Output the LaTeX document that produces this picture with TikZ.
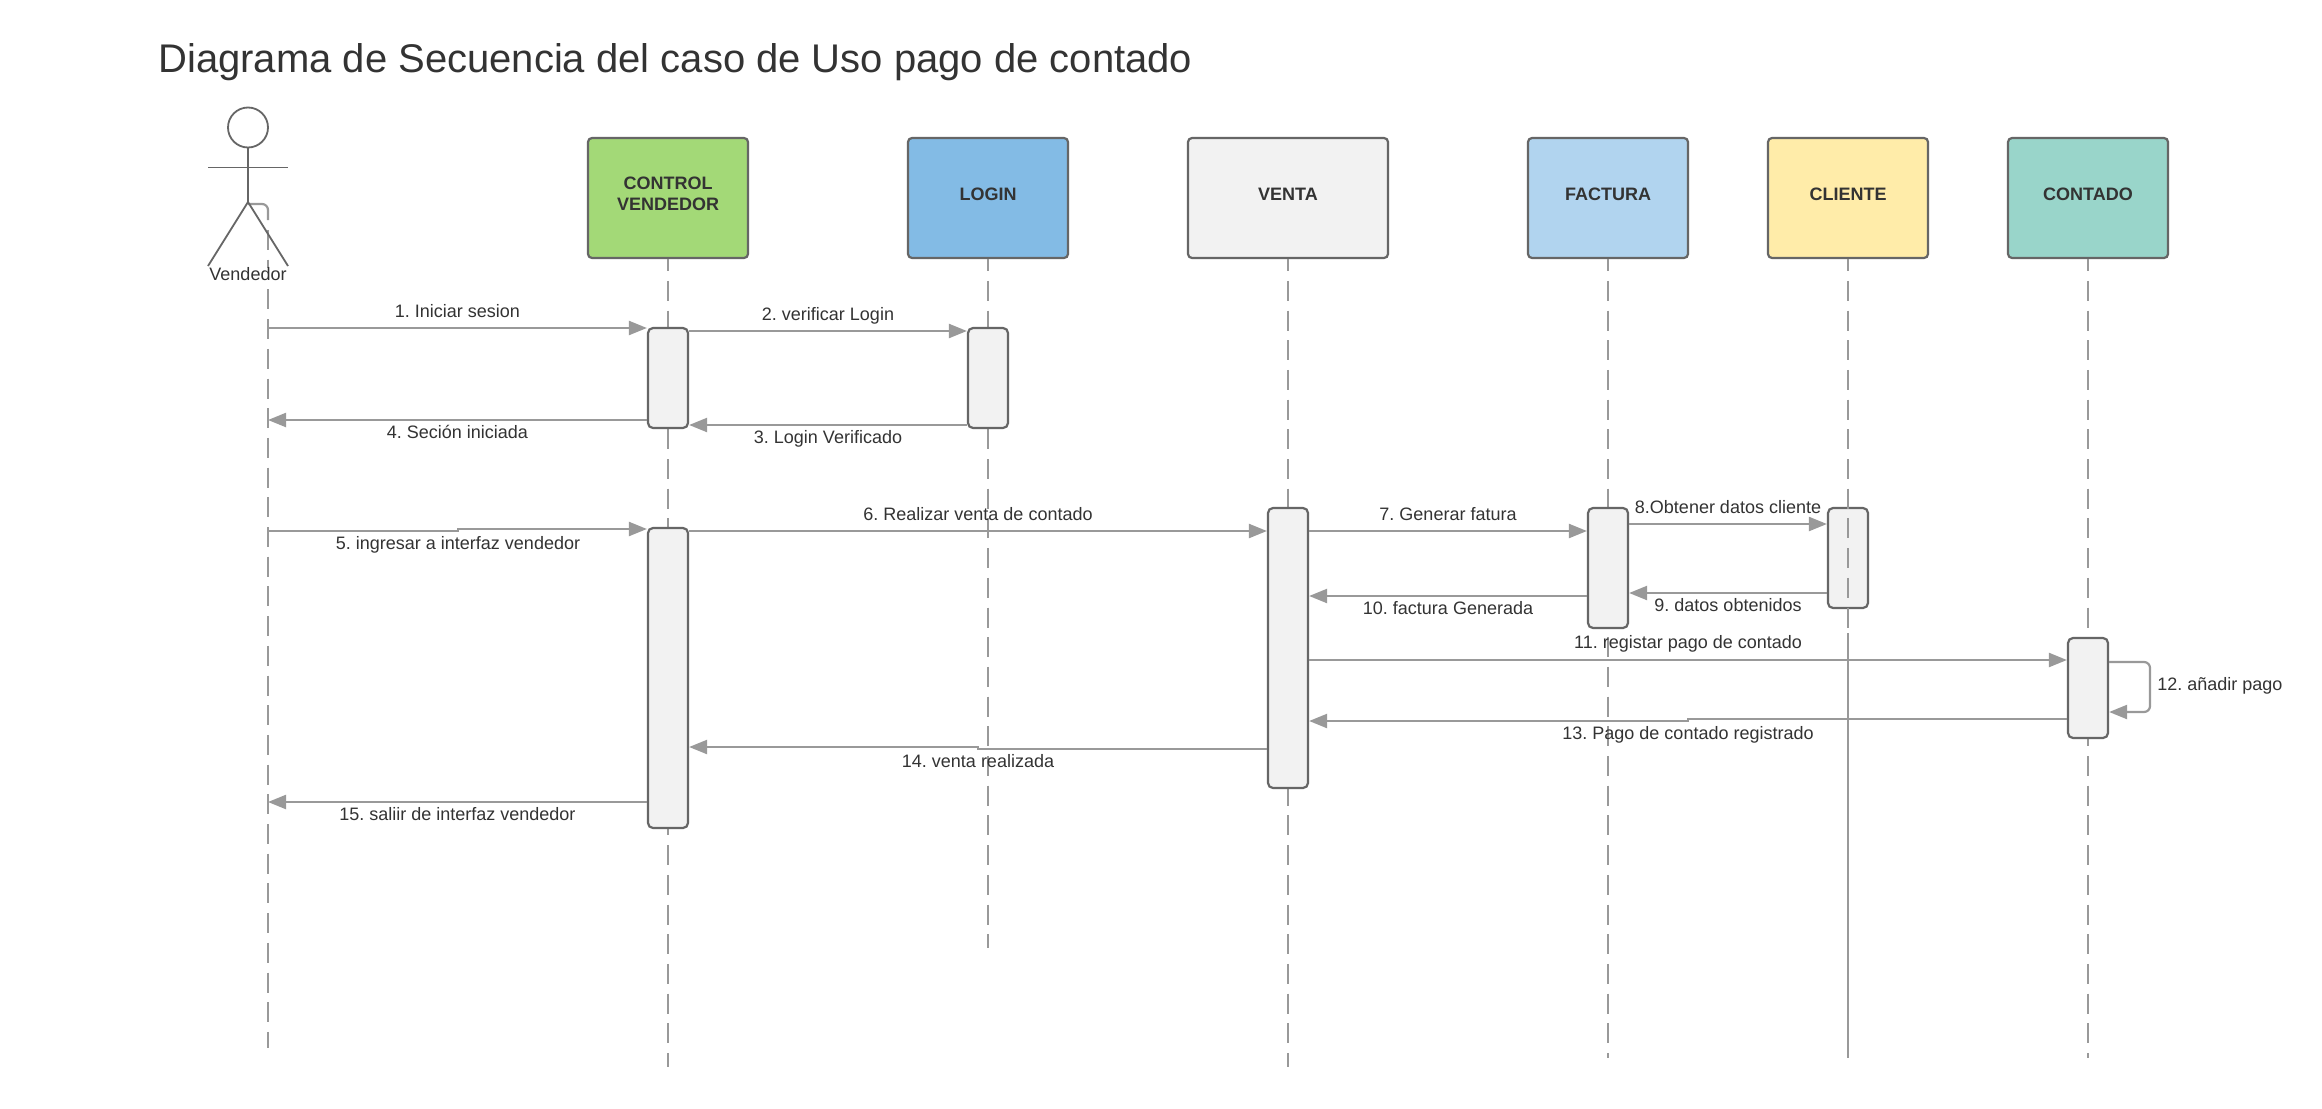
\documentclass[tikz,border=0pt]{standalone}
\usepackage{fontspec}
\setmainfont{Liberation Sans}
\usetikzlibrary{arrows.meta}
\definecolor{lineC}{HTML}{999999}
\definecolor{edgeC}{HTML}{666666}
\definecolor{textC}{HTML}{333333}
\definecolor{greenC}{HTML}{A3D977}
\definecolor{blueC}{HTML}{83BBE5}
\definecolor{paleC}{HTML}{F2F2F2}
\definecolor{skyC}{HTML}{B1D4EF}
\definecolor{yellowC}{HTML}{FFECA9}
\definecolor{tealC}{HTML}{99D5CA}
\frenchspacing
\begin{document}
\begin{tikzpicture}[x=0.5pt,y=-0.5pt,
                    every node/.style={text=textC},
                    obj/.style={draw=edgeC,line width=1.1pt,rounded corners=2pt,minimum width=80pt,minimum height=60pt,align=center,text depth=3.8pt,font=\fontsize{9}{10.5}\selectfont\bfseries},
                    act/.style={draw=edgeC,fill=paleC,line width=1.1pt,rounded corners=2.5pt,minimum width=20pt,inner sep=0pt},
                    life/.style={draw=lineC,line width=1.1pt,dash pattern=on 10pt off 4.85pt,dash phase=4pt},
                    msg/.style={draw=lineC,line width=1.1pt,-{Triangle[length=9pt,width=7pt]}},
                    stick/.style={draw=edgeC,line width=0.9pt},
                    lbl/.style={inner sep=0pt,font=\fontsize{9}{10}\selectfont,text height=6.5pt,text depth=2pt},
                    up/.style={lbl,midway,yshift=7.75pt},
                    dn/.style={lbl,midway,yshift=-7pt}]
  \path[use as bounding box,fill=white] (0,0) rectangle (2322,1108);
  \node[anchor=west,inner sep=0pt,font=\fontsize{20}{24}\selectfont] (title) at (158,62) {Diagrama de Secuencia del caso de Uso pago de contado};

  % lifelines
  \coordinate (actorEnd) at (268,1048);
  \coordinate (ctrlEnd) at (668,1067);
  \coordinate (loginEnd) at (988,948);
  \coordinate (ventaEnd) at (1288,1067);
  \coordinate (factEnd) at (1608,1058);
  \coordinate (clienteEnd) at (1848,1058);
  \coordinate (contEnd) at (2088,1058);

  \node[obj,fill=greenC] (ctrl) at (668,198) {CONTROL\\VENDEDOR};
  \node[obj,fill=blueC] (login) at (988,198) {LOGIN};
  \node[obj,fill=paleC,minimum width=100pt] (venta) at (1288,198) {VENTA};
  \node[obj,fill=skyC] (fact) at (1608,198) {FACTURA};
  \node[obj,fill=yellowC] (cliente) at (1848,198) {CLIENTE};
  \node[obj,fill=tealC] (cont) at (2088,198) {CONTADO};

  \draw[life] (ctrl)--(ctrlEnd);
  \draw[life] (login)--(loginEnd);
  \draw[life] (venta)--(ventaEnd);
  \draw[life] (fact)--(factEnd);
  \draw[life] (cont)--(contEnd);

  % actor
  \node[circle,stick,minimum size=20pt,inner sep=0pt] (head) at (248,127.5) {};
  \coordinate (hip) at (248,202);
  \coordinate (armL) at (208,167.5);
  \coordinate (armR) at (288,167.5);
  \coordinate (legL) at (208,266);
  \coordinate (legR) at (288,266);
  \coordinate (actorTop) at (248,204);
  \coordinate (actorBend) at (268,220);
  \coordinate (actorDash) at (268,230);
  \draw[draw=lineC,line width=1.1pt,rounded corners=3pt] (actorTop)-|(actorBend);
  \draw[life,dash phase=0pt] (actorDash)--(actorEnd);
  \draw[stick] (head)--(hip);
  \draw[stick] (armL)--(armR);
  \draw[stick] (legL)--(hip)--(legR);
  \node[lbl,fill=white,text height=6.5pt,text depth=1pt] (vend) at (248,275) {Vendedor};

  % activations
  \node[act,minimum height=50pt] (ctrlA) at (668,378) {};
  \node[act,minimum height=50pt] (loginA) at (988,378) {};
  \node[act,minimum height=150pt] (ctrlB) at (668,678) {};
  \node[act,minimum height=140pt] (ventaA) at (1288,648) {};
  \node[act,minimum height=60pt] (factA) at (1608,568) {};
  \node[act,minimum height=50pt] (clienteA) at (1848,558) {};
  \node[act,minimum height=50pt] (contA) at (2088,688) {};

  \coordinate (clienteSolid) at (1848,633);
  \draw[life] (cliente)--(clienteSolid);
  \draw[draw=lineC,line width=1.1pt] (clienteSolid)--(clienteEnd);

  % messages
  \draw[msg] (268,328)--(ctrlA.west |- 0,328) node[up]{1. Iniciar sesion};
  \draw[msg] (ctrlA.east |- 0,331)--(loginA.west |- 0,331) node[up]{2. verificar Login};
  \draw[msg] (loginA.west |- 0,425)--(ctrlA.east |- 0,425) node[dn]{3. Login Verificado};
  \draw[msg] (ctrlA.west |- 0,420)--(268,420) node[dn]{4. Seción iniciada};
  \draw[msg] (268,531)--(458,531)--(458,529)--(ctrlB.west |- 0,529) node[lbl,pos=0,yshift=-8pt]{5. ingresar a interfaz vendedor};
  \draw[msg] (ctrlB.east |- 0,531)--(ventaA.west |- 0,531) node[up]{6. Realizar venta de contado};
  \draw[msg] (ventaA.east |- 0,531)--(factA.west |- 0,531) node[up]{7. Generar fatura};
  \draw[msg] (factA.east |- 0,524)--(clienteA.west |- 0,524) node[up]{8.Obtener datos cliente};
  \draw[msg] (clienteA.west |- 0,593)--(factA.east |- 0,593) node[dn]{9. datos obtenidos};
  \draw[msg] (factA.west |- 0,596)--(ventaA.east |- 0,596) node[dn]{10. factura Generada};
  \draw[msg] (ventaA.east |- 0,660)--(contA.west |- 0,660) node[lbl,midway,yshift=8.25pt]{11. registar pago de contado};
  \draw[msg,rounded corners=3pt] (contA.east |- 0,662)-|(2150,712)--(contA.east |- 0,712);
  \node[lbl,anchor=west] (selfLbl) at (2157,686) {12. añadir pago};
  \draw[msg] (contA.west |- 0,719)--(1688,719)--(1688,721)--(ventaA.east |- 0,721) node[lbl,pos=0,yshift=-6.75pt]{13. Pago de contado registrado};
  \draw[msg] (ventaA.west |- 0,749)--(978,749)--(978,747)--(ctrlB.east |- 0,747) node[lbl,pos=0,yshift=-8pt]{14. venta realizada};
  \draw[msg] (ctrlB.west |- 0,802)--(268,802) node[dn]{15. saliir de interfaz vendedor};
\end{tikzpicture}
\end{document}
